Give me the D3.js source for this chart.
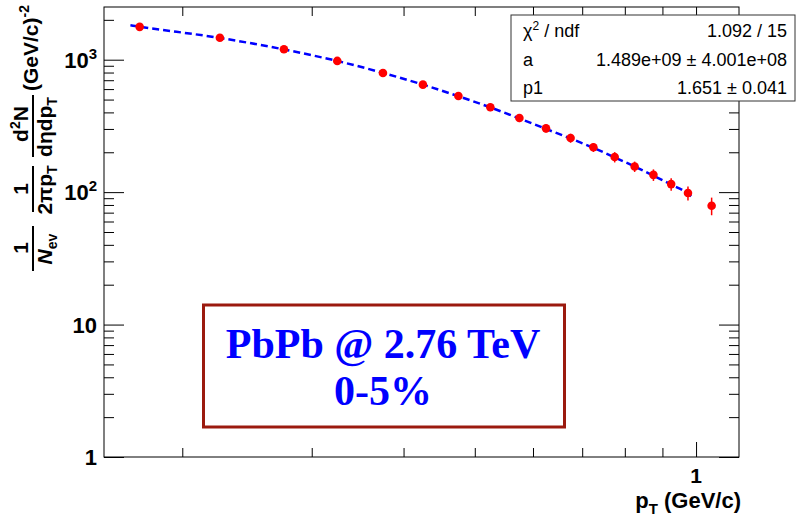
<!DOCTYPE html>
<html><head><meta charset="utf-8">
<script src="https://cdn.jsdelivr.net/npm/d3@7"></script>
<style>
html,body{margin:0;padding:0;background:#fff;}
svg{display:block;}
text{font-family:"Liberation Sans",Helvetica,Arial,sans-serif;}
</style></head>
<body>
<svg id="c" width="798" height="520"></svg>
<script>
// ---- data ----
const pT     = [0.175,0.225,0.275,0.325,0.375,0.425,0.475,0.525,0.575,0.625,0.675,0.725,0.775,0.825,0.875,0.925,0.975,1.05];
const yield_ = [1770,1464,1198,979,794,648,532,437,363,303,256,218,184,156,135,115,98.5,78.9];
const yErr   = [50,45,40,38,35,32,32,28,25,21,20,17,16.5,14,13.5,12.5,12,12];
const fitPT  = [0.17,0.175,0.225,0.275,0.325,0.375,0.425,0.475,0.525,0.575,0.625,0.675,0.725,0.775,0.825,0.875,0.925,0.975,0.985];
const fitY   = [1820,1775,1460,1195,978,795,648,530,436,360,300,254,216,183,156,133,114,97.5,93];
const xMinorTicks = [0.2,0.3,0.4,0.5,0.6,0.7,0.8,0.9];
const xMajorTicks = [1];
const yMajorTicks = [1,10,100,1000];
const yMinorTicks = [2,3,4,5,6,7,8,9,20,30,40,50,60,70,80,90,200,300,400,500,600,700,800,900,2000];
const yTickLabels = [["1",""],["10",""],["10","2"],["10","3"]];
const statRows = [["χ","2"," / ndf","1.092 / 15"],["a","","","1.489e+09 ± 4.001e+08"],["p1","","","1.651 ± 0.041"]];
const boxLines = ["PbPb @ 2.76 TeV","0-5%"];

const svg = d3.select("#c");
const L=104, R=739, T=7, B=457;
const x = d3.scaleLog().domain([0.1565,1.144]).range([L,R]);
const y = d3.scaleLog().domain([1,2500]).range([B,T]);

// frame
svg.append("rect").attr("x",L).attr("y",T).attr("width",R-L).attr("height",B-T)
  .attr("fill","none").attr("stroke","#000").attr("stroke-width",1);

function cleanAxis(g){ g.select(".domain").remove(); g.selectAll("line").attr("stroke","#000"); }
svg.append("g").attr("transform",`translate(0,${B})`)
  .call(d3.axisBottom(x).tickValues(xMinorTicks).tickSize(-9).tickFormat("")).call(cleanAxis);
svg.append("g").attr("transform",`translate(0,${B})`)
  .call(d3.axisBottom(x).tickValues(xMajorTicks).tickSize(-15).tickFormat("")).call(cleanAxis);
svg.append("g").attr("transform",`translate(0,${T})`)
  .call(d3.axisTop(x).tickValues(xMinorTicks).tickSize(-9).tickFormat("")).call(cleanAxis);
svg.append("g").attr("transform",`translate(0,${T})`)
  .call(d3.axisTop(x).tickValues(xMajorTicks).tickSize(-15).tickFormat("")).call(cleanAxis);
svg.append("g").attr("transform",`translate(${L},0)`)
  .call(d3.axisLeft(y).tickValues(yMinorTicks).tickSize(-10).tickFormat("")).call(cleanAxis);
svg.append("g").attr("transform",`translate(${L},0)`)
  .call(d3.axisLeft(y).tickValues(yMajorTicks).tickSize(-20).tickFormat("")).call(cleanAxis);
svg.append("g").attr("transform",`translate(${R},0)`)
  .call(d3.axisRight(y).tickValues(yMinorTicks).tickSize(-10).tickFormat("")).call(cleanAxis);
svg.append("g").attr("transform",`translate(${R},0)`)
  .call(d3.axisRight(y).tickValues(yMajorTicks).tickSize(-20).tickFormat("")).call(cleanAxis);

// y tick labels
yMajorTicks.forEach((v,i)=>{
  const t = svg.append("text").attr("x",97).attr("y",y(v)+8).attr("text-anchor","end")
    .attr("font-size",22).attr("font-weight","bold");
  t.append("tspan").text(yTickLabels[i][0]);
  if(yTickLabels[i][1]) t.append("tspan").attr("font-size",15).attr("dy",-9).text(yTickLabels[i][1]);
});
// x tick labels
xMajorTicks.forEach(v=>{
  svg.append("text").attr("x",x(v)).attr("y",483).attr("text-anchor","middle")
    .attr("font-size",21).attr("font-weight","bold").text(d3.format("d")(v));
});
// x title
const xt = svg.append("text").attr("x",741).attr("y",508).attr("text-anchor","end")
  .attr("font-size",22).attr("font-weight","bold");
xt.append("tspan").text("p");
xt.append("tspan").attr("font-size",15).attr("dy",6).text("T");
xt.append("tspan").attr("dy",-6).text(" (GeV/c)");

// y title (rotated)
const yt = svg.append("g").attr("font-weight","bold");
function rt(bx,cy,anchor){
  return yt.append("text").attr("transform",`translate(${bx},${cy}) rotate(-90)`)
    .attr("text-anchor",anchor||"middle").attr("font-size",21);
}
function bar(x0,y0,y1){ yt.append("line").attr("x1",x0).attr("x2",x0).attr("y1",y0).attr("y2",y1).attr("stroke","#000").attr("stroke-width",2); }
rt(28,248).text("1");
bar(33,226,271);
{ const t=rt(52,249); t.append("tspan").attr("font-style","italic").text("N"); t.append("tspan").attr("font-size",14).attr("dy",5).text("ev"); }
rt(28,189).text("1");
bar(33,166,212);
{ const t=rt(52,190); t.append("tspan").text("2πp"); t.append("tspan").attr("font-size",14).attr("dy",5).text("T"); }
{ const t=rt(28,124); t.append("tspan").text("d"); t.append("tspan").attr("font-size",14).attr("dy",-8).text("2"); t.append("tspan").attr("dy",8).text("N"); }
bar(33,95,157);
{ const t=rt(52,127); t.append("tspan").text("dηdp"); t.append("tspan").attr("font-size",14).attr("dy",5).text("T"); }
{ const t=rt(38,91,"start"); t.append("tspan").text("(GeV/c)"); t.append("tspan").attr("font-size",14).attr("dy",-9).text("-2"); }

// fit curve
const line = d3.line().x((d,i)=>x(fitPT[i])).y((d,i)=>y(fitY[i])).curve(d3.curveMonotoneX);
svg.append("path").datum(fitY).attr("d",line).attr("fill","none")
  .attr("stroke","#0000ff").attr("stroke-width",2.5).attr("stroke-dasharray","7,4");

// error bars + markers
const pts = pT.map((p,i)=>({p,v:yield_[i],e:yErr[i]}));
svg.append("g").selectAll("line").data(pts).join("line")
  .attr("x1",d=>x(d.p)).attr("x2",d=>x(d.p))
  .attr("y1",d=>y(d.v-d.e)).attr("y2",d=>y(d.v+d.e))
  .attr("stroke","#ff0000").attr("stroke-width",1.5);
svg.append("g").selectAll("circle").data(pts).join("circle")
  .attr("cx",d=>x(d.p)).attr("cy",d=>y(d.v)).attr("r",4.3).attr("fill","#ff0000");

// stats box
svg.append("rect").attr("x",511).attr("y",15).attr("width",284).attr("height",86)
  .attr("fill","#fff").attr("stroke","#333").attr("stroke-width",1);
statRows.forEach((r,i)=>{
  const by = 37 + i*28.5;
  const t = svg.append("text").attr("x",523).attr("y",by).attr("font-size",18);
  t.append("tspan").text(r[0]);
  if(r[1]) t.append("tspan").attr("font-size",12).attr("dy",-7).text(r[1]);
  if(r[2]) t.append("tspan").attr("dy",r[1]?7:0).text(r[2]);
  svg.append("text").attr("x",787).attr("y",by).attr("font-size",18).attr("text-anchor","end").text(r[3]);
});

// label box
svg.append("rect").attr("x",203.5).attr("y",305).attr("width",361).attr("height",122)
  .attr("fill","#fff").attr("stroke","#9b1a0e").attr("stroke-width",3);
boxLines.forEach((s,i)=>{
  svg.append("text").attr("x",383).attr("y",358+i*47).attr("text-anchor","middle")
    .attr("font-weight","bold").attr("font-size",42).attr("fill","#0000ff")
    .style("font-family","'Liberation Serif','Times New Roman',serif").text(s);
});
</script>
</body></html>
